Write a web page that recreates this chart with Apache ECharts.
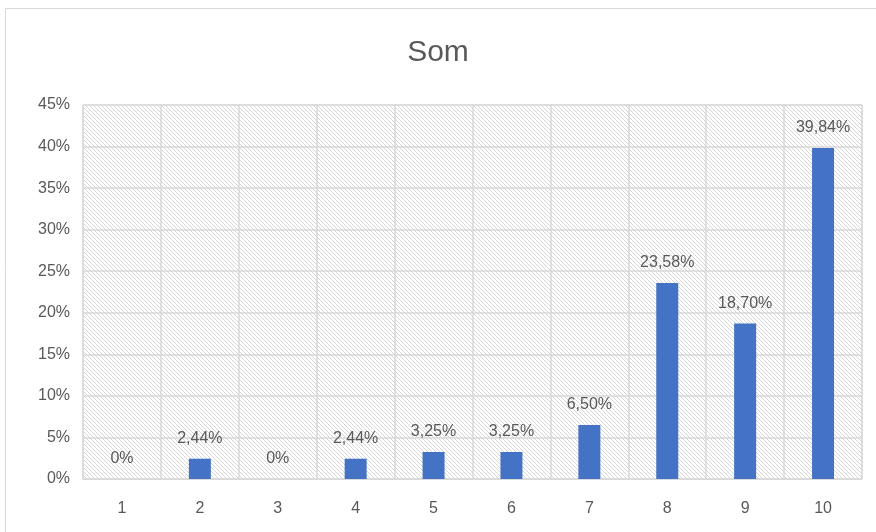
<!DOCTYPE html>
<html>
<head>
<meta charset="utf-8">
<script src="https://cdn.jsdelivr.net/npm/echarts@6/dist/echarts.min.js"></script>
<style>
  html, body { margin: 0; padding: 0; background: #fff; }
  #main { width: 876px; height: 532px; }
</style>
</head>
<body>
<div id="main"></div>
<script>
var chartTitle = 'Som';
var categories = ['1', '2', '3', '4', '5', '6', '7', '8', '9', '10'];
var values = [0, 2.44, 0, 2.44, 3.25, 3.25, 6.50, 23.58, 18.70, 39.84];

// hatch tile for the plot area background
function hatchTile() {
    var c = document.createElement('canvas');
    c.width = 4; c.height = 4;
    var ctx = c.getContext('2d');
    ctx.fillStyle = '#ffffff';
    ctx.fillRect(0, 0, 4, 4);
    ctx.fillStyle = '#d6d6d6';
    for (var i = 0; i < 4; i++) {
        ctx.fillRect(i, i, 1, 1);
    }
    return c;
}

function fmt(v) {
    if (v === 0) return '0%';
    return v.toFixed(2).replace('.', ',') + '%';
}

var font = 'Liberation Sans, Arial, sans-serif';
var chart = echarts.init(document.getElementById('main'), null, {renderer: 'canvas'});
chart.setOption({
    animation: false,
    backgroundColor: '#fff',
    graphic: [{
        type: 'rect',
        shape: {x: 5.5, y: 8.5, width: 900, height: 560},
        style: {fill: 'none', stroke: '#d9d9d9', lineWidth: 1},
        silent: true
    }],
    title: {
        text: chartTitle,
        left: 'center',
        top: 33,
        textStyle: {fontFamily: font, fontSize: 30, fontWeight: 'normal', color: '#595959'}
    },
    grid: {
        left: 83, right: 14, top: 105, bottom: 53,
        show: true,
        borderWidth: 1,
        borderColor: '#d9d9d9',
        backgroundColor: {image: hatchTile(), repeat: 'repeat'}
    },
    xAxis: {
        type: 'category',
        data: categories,
        axisLine: {lineStyle: {color: '#d9d9d9', width: 1}},
        axisTick: {show: false},
        axisLabel: {color: '#595959', fontFamily: font, fontSize: 16, margin: 22},
        splitLine: {show: true, lineStyle: {color: '#d9d9d9', width: 1.5}}
    },
    yAxis: {
        type: 'value',
        min: 0, max: 45, interval: 5,
        axisLine: {show: false},
        axisTick: {show: false},
        axisLabel: {color: '#595959', fontFamily: font, fontSize: 16, margin: 13,
            formatter: function (v) { return v + '%'; }},
        splitLine: {lineStyle: {color: '#d9d9d9', width: 1.5}}
    },
    series: [{
        type: 'bar',
        data: values,
        barWidth: 22,
        itemStyle: {color: '#4472c4'},
        label: {
            show: true,
            position: 'top',
            distance: 12,
            color: '#595959',
            fontFamily: font,
            fontSize: 16,
            formatter: function (p) { return fmt(p.value); }
        }
    }]
});
</script>
</body>
</html>
